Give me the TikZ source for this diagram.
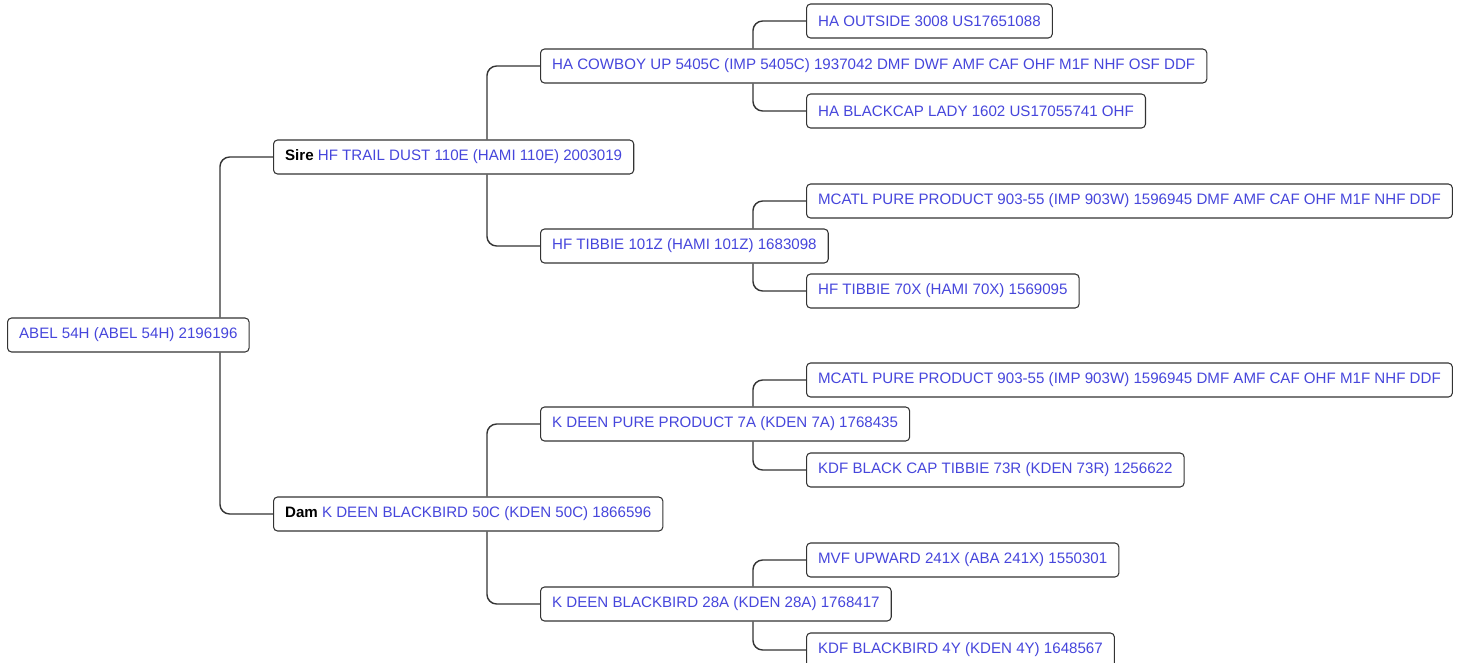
\documentclass[tikz,border=0pt]{standalone}
\usepackage{fontspec}
\setmainfont{Liberation Sans}
\usepackage{tikz}

\definecolor{namecol}{HTML}{4646DC}
\definecolor{linecol}{HTML}{333333}

\tikzset{
  animal/.style={draw=linecol, line width=0.6pt, fill=white, rounded corners=2.3pt,
    anchor=west, minimum height=0.68cm, inner xsep=6.6pt, inner ysep=0pt,
    text=namecol, font=\fontsize{8.6}{10}\selectfont},
  link/.style={draw=linecol, line width=0.8pt, rounded corners=5.5pt},
}
\newcommand{\rel}[1]{{\color{black}\bfseries #1}}

\begin{document}
\begin{tikzpicture}[x=0.02cm, y=-0.02cm]
\useasboundingbox (0,0) rectangle (1458,663);

  % Animal
  \node[animal] (abel) at (7,335) {ABEL 54H (ABEL 54H) 2196196};

  % Parents
  \node[animal] (sire) at (273,157) {\rel{Sire} HF TRAIL DUST 110E (HAMI 110E) 2003019};
  \node[animal] (dam) at (273,514) {\rel{Dam} K DEEN BLACKBIRD 50C (KDEN 50C) 1866596};

  % Grandparents
  \node[animal] (cowboy) at (540,66) {HA COWBOY UP 5405C (IMP 5405C) 1937042 DMF DWF AMF CAF OHF M1F NHF OSF DDF};
  \node[animal] (tibbieZ) at (540,246) {HF TIBBIE 101Z (HAMI 101Z) 1683098};
  \node[animal] (kdeenA) at (540,424) {K DEEN PURE PRODUCT 7A (KDEN 7A) 1768435};
  \node[animal] (birdA) at (540,604) {K DEEN BLACKBIRD 28A (KDEN 28A) 1768417};

  % Great grandparents
  \node[animal] (outside) at (806,21) {HA OUTSIDE 3008 US17651088};
  \node[animal] (blackcap) at (806,111) {HA BLACKCAP LADY 1602 US17055741 OHF};
  \node[animal] (mcatlA) at (806,201) {MCATL PURE PRODUCT 903-55 (IMP 903W) 1596945 DMF AMF CAF OHF M1F NHF DDF};
  \node[animal] (tibbieX) at (806,291) {HF TIBBIE 70X (HAMI 70X) 1569095};
  \node[animal] (mcatlB) at (806,380) {MCATL PURE PRODUCT 903-55 (IMP 903W) 1596945 DMF AMF CAF OHF M1F NHF DDF};
  \node[animal] (capR) at (806,470) {KDF BLACK CAP TIBBIE 73R (KDEN 73R) 1256622};
  \node[animal] (upward) at (806,560) {MVF UPWARD 241X (ABA 241X) 1550301};
  \node[animal] (birdY) at (806,650) {KDF BLACKBIRD 4Y (KDEN 4Y) 1648567};

  % Links
  \draw[link] ([xshift=4.26cm]abel.north west) |- (sire.west);
  \draw[link] ([xshift=4.26cm]abel.south west) |- (dam.west);
  \draw[link] ([xshift=4.28cm]sire.north west) |- (cowboy.west);
  \draw[link] ([xshift=4.28cm]sire.south west) |- (tibbieZ.west);
  \draw[link] ([xshift=4.28cm]dam.north west) |- (kdeenA.west);
  \draw[link] ([xshift=4.28cm]dam.south west) |- (birdA.west);
  \draw[link] ([xshift=4.26cm]cowboy.north west) |- (outside.west);
  \draw[link] ([xshift=4.26cm]cowboy.south west) |- (blackcap.west);
  \draw[link] ([xshift=4.26cm]tibbieZ.north west) |- (mcatlA.west);
  \draw[link] ([xshift=4.26cm]tibbieZ.south west) |- (tibbieX.west);
  \draw[link] ([xshift=4.26cm]kdeenA.north west) |- (mcatlB.west);
  \draw[link] ([xshift=4.26cm]kdeenA.south west) |- (capR.west);
  \draw[link] ([xshift=4.26cm]birdA.north west) |- (upward.west);
  \draw[link] ([xshift=4.26cm]birdA.south west) |- (birdY.west);
\end{tikzpicture}
\end{document}
